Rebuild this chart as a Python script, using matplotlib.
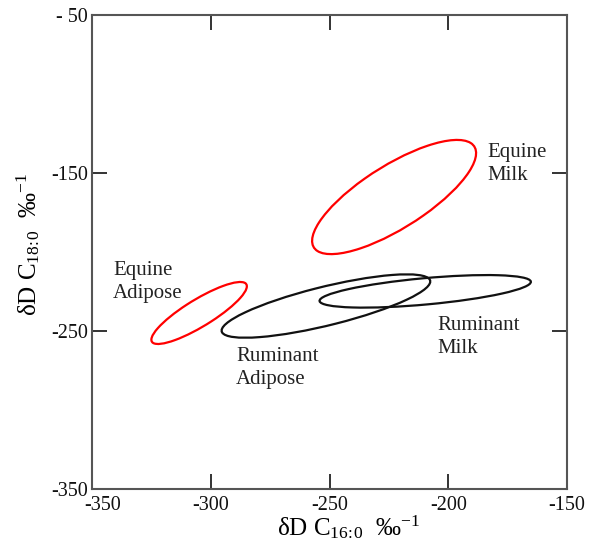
import numpy as np
import matplotlib
matplotlib.use("Agg")
import matplotlib.pyplot as plt
import matplotlib.transforms as mtransforms
from matplotlib.patches import Ellipse

# ellipse data (centre x, centre y, width, height, angle) in data units
names = ["Equine Milk", "Equine Adipose", "Ruminant Adipose", "Ruminant Milk"]
centre_x = [-222.8, -304.9, -251.5, -209.7]
centre_y = [-165.2, -238.6, -234.2, -224.9]
widths = [94.0, 54.2, 93.6, 89.8]
heights = [34.0, 14.8, 23.8, 16.6]
angles = [46.7, 44.2, 20.9, 7.95]
colors = ["red", "red", "#111111", "#111111"]

# label text and anchor positions
label_text = ["Equine\nMilk", "Equine\nAdipose", "Ruminant\nAdipose", "Ruminant\nMilk"]
label_x = [-183.7, -341.2, -289.4, -204.7]
label_y = [-144.3, -219.0, -273.4, -253.8]

xticks = [-350, -300, -250, -200, -150]
xtick_labels = ["-350", "-300", "-250", "-200", "-150"]
yticks = [-50, -150, -250, -350]
ytick_labels = ["- 50", "-150", "-250", "-350"]

plt.rcParams["font.family"] = ["Liberation Serif", "DejaVu Serif"]
plt.rcParams["mathtext.fontset"] = "custom"
plt.rcParams["mathtext.rm"] = "Liberation Serif"
plt.rcParams["mathtext.it"] = "Liberation Serif:italic"

fig = plt.figure(figsize=(5.92, 5.44), dpi=100)
ax = fig.add_axes([92 / 592, 55 / 544, 475 / 592, 474 / 544])

for i in range(len(names)):
    e = Ellipse((centre_x[i], centre_y[i]), widths[i], heights[i], angle=angles[i],
                fill=False, edgecolor=colors[i], linewidth=1.6)
    ax.add_patch(e)

for i in range(len(label_text)):
    ax.text(label_x[i], label_y[i], label_text[i], ha="left", va="center",
            fontsize=15, color="#222222", linespacing=1.3)

ax.set_xlim(-350, -150)
ax.set_ylim(-350, -50)
ax.set_xticks(xticks)
ax.set_xticklabels(xtick_labels)
ax.set_yticks(yticks)
ax.set_yticklabels(ytick_labels)
ax.tick_params(direction="in", length=11, width=1.2, labelsize=14.5,
               top=True, right=True, colors="#111111")
ax.tick_params(axis="x", pad=5)
ax.tick_params(axis="y", pad=3)

# first x tick label sits right of the corner in the original
lab0 = ax.get_xticklabels()[0]
lab0.set_transform(lab0.get_transform() +
                   mtransforms.ScaledTranslation(11 / 100, 0, fig.dpi_scale_trans))

for s in ax.spines.values():
    s.set_color("#555555")
    s.set_linewidth(1.5)

ax.set_xlabel(r"δD C$_{16\!:\!0}$  ‰$^{-1}$", fontsize=18, va="center")
ax.xaxis.set_label_coords(0.539, -0.081)
ax.set_ylabel(r"δD C$_{18\!:\!0}$  ‰$^{-1}$", fontsize=18, va="center")
ax.yaxis.set_label_coords(-0.135, 0.515)

fig.savefig("out.png", dpi=100)
